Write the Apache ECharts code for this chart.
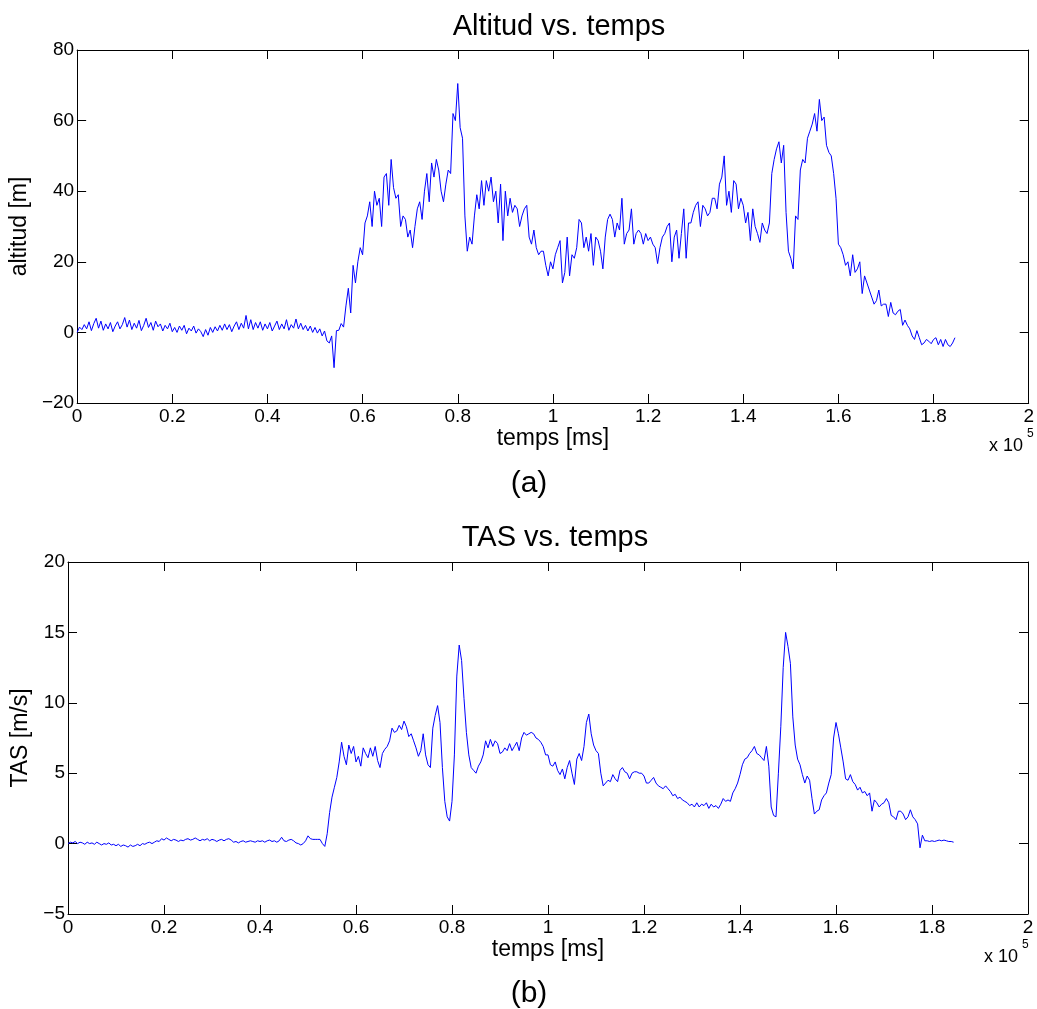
<!DOCTYPE html>
<html>
<head>
<meta charset="utf-8">
<script src="https://cdn.jsdelivr.net/npm/echarts@6/dist/echarts.min.js"></script>
<style>
  html, body { margin: 0; padding: 0; background: #ffffff; }
  #chart { width: 1037px; height: 1009px; }
</style>
</head>
<body>
<div id="chart"></div>
<script>
// Flight log: altitude and true airspeed, one sample every 500 ms.
const SAMPLE_MS = 500;

// Altitude [m], one row per 0.1e5 ms (20 samples)
const altitude = [
  0, 1.5, 0.8, 2.2, 1.0, 3.0, 0.5, 2.5, 4.0, 1.2, 3.2, 0.6, 2.4, 1.0, 2.8, 0.2, 1.8, 3.0, 1.0, 2.2,
  4.2, 1.5, 3.5, 0.8, 2.6, 1.2, 3.4, 0.5, 2.0, 4.0, 1.4, 2.8, 0.6, 3.2, 1.6, 2.4, 0.4, 2.0, 1.0, 2.6,
  0.2, 1.4, 0.0, 1.8, 0.6, 2.0, -0.4, 1.2, 0.4, 1.8, -0.2, 1.0, 0.2, -1.2, 0.8, -0.8, 1.4, 0.0, 1.6, 0.4,
  2.0, 0.6, 2.4, 0.8, 2.2, 0.2, 1.8, 3.0, 0.8, 2.6, 1.2, 4.8, 1.0, 3.6, 0.8, 2.8, 1.2, 3.0, 0.6, 2.4,
  1.0, 2.8, 0.4, 1.8, 3.2, 0.8, 2.4, 1.0, 3.6, 0.6, 2.2, 1.2, 3.8, 1.0, 2.6, 0.8, 2.0, 0.4, 1.8, 0.0,
  1.4, -0.2, 1.0, -1.0, 0.4, -2.4, -3.0, -1.0, -10, 0.5, 0.6, 2.5, 1.5, 7.5, 12.5, 5.5, 19, 14, 20, 24,
  22, 31, 33, 37, 30, 40, 36, 38, 30, 44, 45, 36, 49, 41, 38, 39, 30, 33, 32, 27,
  29, 24, 30, 35, 37, 32, 40, 45, 37, 48, 44, 49, 46, 40, 37, 42, 46, 45, 62, 60,
  70.5, 58, 55, 33, 23, 27, 25, 33, 39, 35, 43, 36, 43, 40, 44, 37, 40, 31, 42, 26,
  40, 33, 38, 34, 36, 35, 30, 33, 35, 36, 27, 25, 29, 24, 22, 23, 23, 19, 16, 20,
  18, 22, 24, 26, 14, 17, 27, 16, 22, 21, 24, 32, 31, 24, 27, 23, 28, 19, 27, 26,
  23, 18, 27, 32, 33.5, 32, 27, 31, 29, 38, 25, 28, 29, 35, 25, 28, 29, 28, 25, 28,
  26, 27, 25, 24, 19.5, 24, 27, 28, 30, 31, 20, 27, 29, 21, 28, 35, 21, 31, 31, 34,
  36, 37, 30, 36, 35, 33, 34, 38, 38, 35, 42, 44, 50, 36, 40, 34, 43, 42, 35, 38,
  36, 31, 34, 26, 35, 30, 28, 25.5, 31, 29, 28, 31, 45, 49, 52, 54, 48, 53, 34, 23,
  21, 18, 33, 32, 46, 49, 48, 55, 57, 59, 62, 57, 66, 60, 61, 53, 51, 50, 45, 38,
  25, 24, 22, 19, 20, 16, 22, 17, 18, 20, 11, 16, 14, 12, 10, 8, 9, 12, 7.5, 8,
  8, 4.5, 8.5, 5.5, 5, 6, 6.5, 2, 3.5, 2, 1, -1, -2, 0.5, -1.5, -3.5, -3, -2, -2.5, -3.2,
  -2, -1.5, -3.5, -2, -4, -2, -3.5, -4, -3, -1.5
];

// True airspeed [m/s], same sampling
const tas = [
  0.0, 0.1, 0.05, 0.15, 0.0, 0.1, 0.05, -0.05, 0.1, 0.0, 0.05, -0.05, 0.1, 0.0, -0.1, 0.0, -0.05, 0.05, -0.1, -0.05,
  -0.15, -0.05, -0.2, -0.1, -0.15, -0.25, -0.1, -0.2, -0.15, -0.05, -0.15, 0.0, -0.05, 0.05, 0.1, 0.0, 0.1, 0.2, 0.15, 0.35,
  0.25, 0.4, 0.3, 0.2, 0.3, 0.25, 0.15, 0.25, 0.2, 0.3, 0.35, 0.25, 0.3, 0.4, 0.3, 0.2, 0.3, 0.25, 0.35, 0.2,
  0.3, 0.25, 0.15, 0.25, 0.3, 0.2, 0.3, 0.35, 0.25, 0.1, 0.15, 0.05, 0.15, 0.2, 0.1, 0.15, 0.2, 0.15, 0.1, 0.2,
  0.15, 0.2, 0.1, 0.2, 0.25, 0.15, 0.2, 0.1, 0.2, 0.45, 0.2, 0.15, 0.25, 0.3, 0.2, 0.05, 0.0, -0.1, 0.0, 0.2,
  0.55, 0.35, 0.3, 0.3, 0.3, 0.3, 0.0, -0.2, 0.7, 2.2, 3.3, 4.0, 4.7, 5.8, 7.2, 6.2, 5.6, 7.0, 6.4, 6.9,
  5.8, 6.2, 5.5, 6.8, 6.4, 6.1, 6.8, 6.2, 6.9, 5.9, 5.4, 6.4, 6.7, 6.9, 7.3, 8.2, 7.9, 8.0, 8.4, 8.1,
  8.7, 8.3, 7.6, 7.8, 7.3, 6.8, 6.2, 6.6, 7.8, 6.3, 5.6, 5.4, 8.2, 9.1, 9.8, 8.6, 5.4, 3.0, 1.9, 1.6,
  3.0, 6.3, 11.9, 14.1, 13.0, 10.3, 7.9, 6.3, 5.4, 5.2, 5.0, 5.5, 5.8, 6.3, 7.3, 6.8, 7.4, 6.9, 7.3, 7.1,
  6.4, 6.5, 6.8, 6.6, 7.1, 6.6, 6.9, 7.2, 6.6, 7.5, 7.9, 7.7, 7.8, 7.9, 7.8, 7.5, 7.4, 7.2, 6.9, 6.3,
  6.3, 5.6, 5.5, 5.8, 5.2, 4.9, 5.3, 4.6, 5.4, 5.9, 5.0, 4.2, 6.0, 6.4, 5.9, 6.9, 8.6, 9.2, 7.8, 7.0,
  6.6, 6.4, 5.0, 4.1, 4.3, 4.5, 4.4, 4.9, 4.6, 4.4, 5.2, 5.4, 5.1, 5.0, 4.6, 5.0, 5.1, 5.1, 5.0, 5.0,
  4.8, 4.3, 4.3, 4.5, 4.7, 4.3, 4.1, 4.0, 3.9, 4.1, 3.9, 3.7, 3.4, 3.5, 3.2, 3.3, 3.1, 3.0, 2.9, 2.7,
  2.8, 2.6, 2.9, 2.6, 2.8, 2.7, 2.9, 2.5, 2.8, 2.6, 2.7, 2.5, 2.8, 3.2, 3.0, 3.1, 3.0, 3.6, 3.9, 4.3,
  4.9, 5.6, 6.0, 6.1, 6.4, 6.6, 6.9, 6.4, 6.3, 6.1, 5.9, 6.9, 5.5, 2.6, 2.0, 1.9, 5.0, 8.3, 12.5, 15.0,
  14.0, 12.8, 9.0, 7.0, 6.0, 5.6, 4.9, 4.3, 4.8, 4.5, 3.2, 2.1, 2.3, 2.4, 3.1, 3.4, 3.6, 4.3, 4.9, 7.5,
  8.6, 7.8, 6.8, 5.8, 4.6, 4.5, 4.9, 4.4, 4.2, 3.8, 4.0, 3.6, 3.7, 3.4, 3.6, 2.3, 3.1, 2.9, 2.6, 2.8,
  2.9, 3.2, 2.9, 2.0, 1.9, 1.7, 2.3, 2.3, 2.1, 1.7, 1.9, 2.4, 1.9, 1.7, 1.4, -0.3, 0.6, 0.2, 0.2, 0.15,
  0.2, 0.15, 0.2, 0.25, 0.2, 0.25, 0.2, 0.15, 0.15, 0.1
];

// Axis tick values
const timeTicks = [0, 20000, 40000, 60000, 80000, 100000, 120000, 140000, 160000, 180000, 200000];
const altitudeTicks = [-20, 0, 20, 40, 60, 80];
const tasTicks = [-5, 0, 5, 10, 15, 20];

const FONT = '"Liberation Sans", Arial, Helvetica, sans-serif';
const TIME_SCALE = 1e5;

function pairs(values) {
  return values.map((v, i) => [i * SAMPLE_MS, v]);
}

function timeAxis(gridIndex, position, withLabels, name) {
  return {
    type: 'value',
    gridIndex: gridIndex,
    position: position,
    min: timeTicks[0],
    max: timeTicks[timeTicks.length - 1],
    interval: timeTicks[1] - timeTicks[0],
    name: withLabels ? name : '',
    nameLocation: 'middle',
    nameGap: 24,
    nameTextStyle: { fontFamily: FONT, fontSize: 23, color: '#000' },
    axisLine: { show: true, onZero: false, lineStyle: { color: '#000', width: 1 } },
    axisTick: { show: true, inside: true, length: 9, lineStyle: { color: '#000', width: 1 } },
    axisLabel: {
      show: withLabels,
      margin: 4,
      fontFamily: FONT,
      fontSize: 19,
      color: '#000',
      formatter: v => String(+(v / TIME_SCALE).toFixed(1))
    },
    splitLine: { show: false }
  };
}

function valueAxis(gridIndex, position, ticks, withLabels, name, gap) {
  return {
    type: 'value',
    gridIndex: gridIndex,
    position: position,
    min: ticks[0],
    max: ticks[ticks.length - 1],
    interval: ticks[1] - ticks[0],
    name: withLabels ? name : '',
    nameLocation: 'middle',
    nameGap: gap || 36,
    nameRotate: 90,
    nameTextStyle: { fontFamily: FONT, fontSize: 23, color: '#000' },
    axisLine: { show: true, onZero: false, lineStyle: { color: '#000', width: 1 } },
    axisTick: { show: true, inside: true, length: 9, lineStyle: { color: '#000', width: 1 } },
    axisLabel: {
      show: withLabels,
      margin: 3,
      fontFamily: FONT,
      fontSize: 19,
      color: '#000',
      formatter: v => (v < 0 ? '\u2212' + Math.abs(v) : String(v))
    },
    splitLine: { show: false }
  };
}

function textEl(text, x, y, size) {
  return {
    type: 'text',
    left: x,
    top: y,
    style: { text: text, font: size + 'px ' + FONT, fill: '#000' }
  };
}

const chart = echarts.init(document.getElementById('chart'), null, { renderer: 'canvas' });

chart.setOption({
  animation: false,
  backgroundColor: '#ffffff',
  title: [
    { text: 'Altitud vs. temps', left: 554, top: 7, textAlign: 'center',
      textStyle: { fontFamily: FONT, fontSize: 29, fontWeight: 'normal', color: '#000' } },
    { text: 'TAS vs. temps', left: 550, top: 518, textAlign: 'center',
      textStyle: { fontFamily: FONT, fontSize: 29, fontWeight: 'normal', color: '#000' } },
    { text: '(a)', left: 524, top: 464, textAlign: 'center',
      textStyle: { fontFamily: FONT, fontSize: 30, fontWeight: 'normal', color: '#000' } },
    { text: '(b)', left: 524, top: 974, textAlign: 'center',
      textStyle: { fontFamily: FONT, fontSize: 30, fontWeight: 'normal', color: '#000' } }
  ],
  grid: [
    { left: 73, top: 50, width: 960, height: 353, containLabel: false },
    { left: 68, top: 562, width: 960, height: 352, containLabel: false }
  ],
  xAxis: [
    timeAxis(0, 'bottom', true, 'temps [ms]'),
    timeAxis(0, 'top', false, ''),
    timeAxis(1, 'bottom', true, 'temps [ms]'),
    timeAxis(1, 'top', false, '')
  ],
  yAxis: [
    valueAxis(0, 'left', altitudeTicks, true, 'altitud [m]', 36),
    valueAxis(0, 'right', altitudeTicks, false, ''),
    valueAxis(1, 'left', tasTicks, true, 'TAS [m/s]', 31),
    valueAxis(1, 'right', tasTicks, false, '')
  ],
  graphic: [
    textEl('x 10', 989, 437, 18),
    textEl('5', 1027, 428, 12),
    textEl('x 10', 984, 948, 18),
    textEl('5', 1022, 939, 12)
  ],
  series: [
    {
      type: 'line', xAxisIndex: 0, yAxisIndex: 0,
      data: pairs(altitude),
      showSymbol: false, symbol: 'none',
      lineStyle: { color: '#0000ff', width: 1 },
      z: 1
    },
    {
      type: 'line', xAxisIndex: 2, yAxisIndex: 2,
      data: pairs(tas),
      showSymbol: false, symbol: 'none',
      lineStyle: { color: '#0000ff', width: 1 },
      z: 1
    }
  ]
});
</script>
</body>
</html>
